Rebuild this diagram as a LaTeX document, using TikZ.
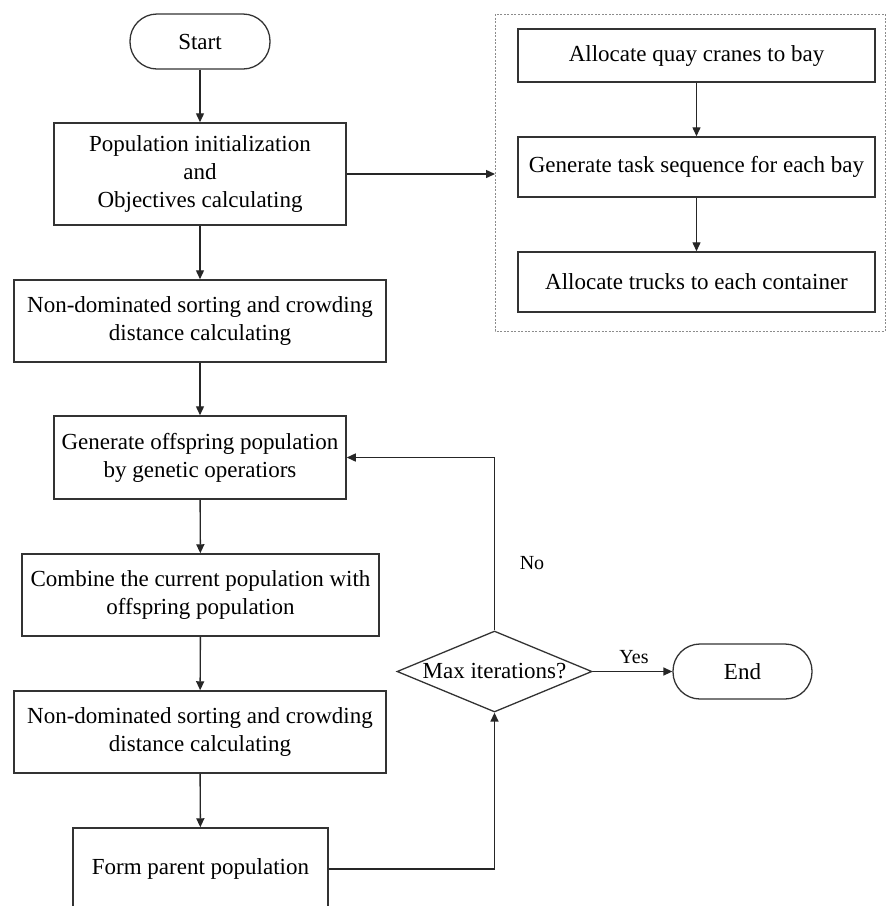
\documentclass[tikz,border=0pt]{standalone}
\usepackage{fontspec}
\setmainfont{Liberation Serif}
\usetikzlibrary{arrows.meta,shapes.geometric,calc}
\begin{document}
\begin{tikzpicture}[x=1pt,y=1pt,
  font=\fontsize{23}{28}\selectfont,
  box/.style={draw=black!80,line width=1.5pt,rectangle,align=center,inner sep=0pt},
  term/.style={draw=black!80,line width=1.3pt,rectangle,rounded corners=27pt,align=center,inner sep=0pt,minimum width=140pt,minimum height=55pt},
  dec/.style={draw=black!80,line width=1.3pt,diamond,aspect=2.4,inner sep=0pt,minimum width=195pt,minimum height=81pt},
  arr/.style={draw=black!85,line width=1.4pt,-{Triangle[length=9pt,width=8pt]}},
  lbl/.style={inner sep=0pt,font=\fontsize{20}{24}\selectfont}]
\clip (0,0) rectangle (886,-906);
\fill[white] (0,0) rectangle (886,-906);

% left column
\node[term] (start) at (200,-41.5) {Start};
\node[box,minimum width=292pt,minimum height=102pt] (init) at (200,-174) {Population initialization\\and\\Objectives calculating};
\node[box,minimum width=372pt,minimum height=82pt] (nd1) at (200,-321) {Non-dominated sorting and crowding\\distance calculating};
\node[box,minimum width=292pt,minimum height=83pt] (gen) at (200,-457.5) {Generate offspring population\\by genetic operatiors};
\node[box,minimum width=357pt,minimum height=82pt] (comb) at (200.5,-595) {Combine the current population with\\offspring population};
\node[box,minimum width=372pt,minimum height=82pt] (nd2) at (200,-732) {Non-dominated sorting and crowding\\distance calculating};
\node[box,minimum width=255pt,minimum height=82pt] (form) at (200.5,-869) {Form parent population};

% decision and end
\node[dec] (max) at (494.5,-671.5) {Max iterations?};
\node[term,minimum width=139pt] (end) at (742.5,-671.5) {End};

% dashed group
\draw[black!45,line width=0.8pt,dash pattern=on 2pt off 1.5pt] (495,-14) rectangle (885,-331);
\coordinate (grp) at (495,-174);
\node[box,minimum width=357pt,minimum height=53pt] (q1) at (696.5,-55.5) {Allocate quay cranes to bay};
\node[box,minimum width=357pt,minimum height=60pt] (q2) at (696.5,-167) {Generate task sequence for each bay};
\node[box,minimum width=357pt,minimum height=60pt] (q3) at (696.5,-282) {Allocate trucks to each container};

% connectors
\draw[arr] (start) -- (init);
\draw[arr] (init) -- (nd1);
\draw[arr] (nd1) -- (gen);
\draw[arr] (gen) -- (comb);
\draw[arr] (comb) -- (nd2);
\draw[arr] (nd2) -- (form);
\draw[arr] (init.east) -- (grp);
\draw[arr] (q1) -- (q2);
\draw[arr] (q2) -- (q3);
\draw[arr] (form.east) -| (max.south);
\draw[arr] (max.north) |- (gen.east);
\draw[arr] (max.east) -- (end.west);

\node[lbl] (no) at (532,-563) {No};
\node[lbl] (yes) at (634,-657) {Yes};
\end{tikzpicture}
\end{document}
